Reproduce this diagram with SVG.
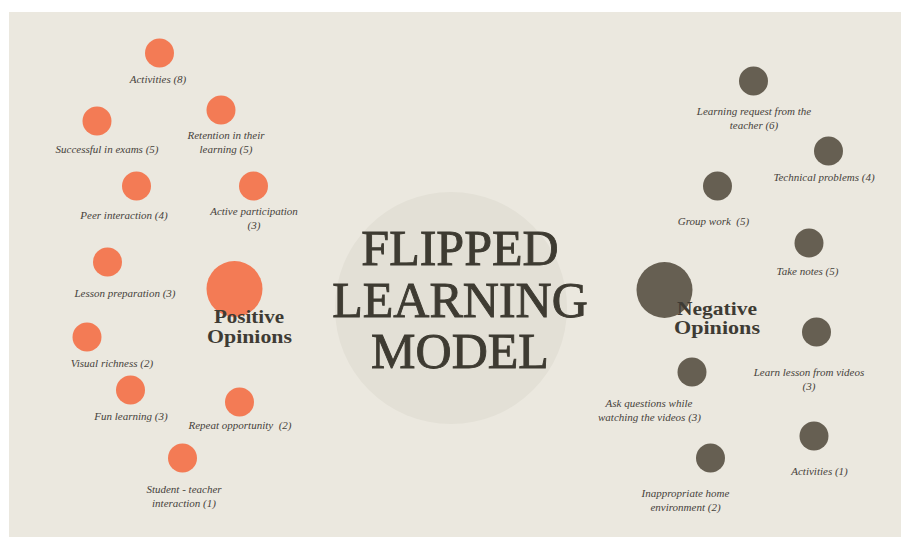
<svg xmlns="http://www.w3.org/2000/svg" width="901" height="537" viewBox="0 0 901 537">
  <style>
    .lbl { font-family: "Liberation Serif", "Times New Roman", serif; font-style: italic; font-size: 11px; fill: #46423b; text-anchor: middle; }
    .pos { fill: #f37b55; }
    .neg { fill: #665f52; }
    .grp { font-family: "Liberation Serif", "Times New Roman", serif; font-weight: bold; font-size: 19px; fill: #3e3b34; text-anchor: middle; }
    .title { font-family: "Liberation Serif", "Times New Roman", serif; font-size: 50px; fill: #3e3b32; stroke: #3e3b32; stroke-width: 0.9px; text-anchor: middle; }
  </style>

  <!-- page -->
  <rect x="0" y="0" width="901" height="537" fill="#ffffff"/>
  <rect x="9" y="12" width="892" height="525" fill="#ebe8df"/>

  <!-- central topic -->
  <g id="center">
    <circle cx="451" cy="308" r="116" fill="#e3e0d6"/>
    <text class="title" x="460" y="265">FLIPPED</text>
    <text class="title" x="460" y="317">LEARNING</text>
    <text class="title" x="460" y="368">MODEL</text>
  </g>

  <!-- connectors: none drawn in this layout -->
  <g id="connectors"/>

  <!-- positive opinions -->
  <g id="positive">
    <circle class="pos" cx="234.5" cy="289" r="28"/>
    <text class="grp" x="249" y="323" textLength="70" lengthAdjust="spacingAndGlyphs">Positive</text>
    <text class="grp" x="249.5" y="343" textLength="85" lengthAdjust="spacingAndGlyphs">Opinions</text>
  </g>
  <g id="p-activities">
    <circle class="pos" cx="159.5" cy="53" r="14.5"/>
    <text class="lbl" x="158" y="83">Activities (8)</text>
  </g>
  <g id="p-exams">
    <circle class="pos" cx="97" cy="121" r="14.5"/>
    <text class="lbl" x="107" y="153">Successful in exams (5)</text>
  </g>
  <g id="p-retention">
    <circle class="pos" cx="221" cy="110" r="14.5"/>
    <text class="lbl" x="226" y="139">Retention in their</text>
    <text class="lbl" x="226" y="153">learning (5)</text>
  </g>
  <g id="p-peer">
    <circle class="pos" cx="136.5" cy="186" r="14.5"/>
    <text class="lbl" x="124" y="219">Peer interaction (4)</text>
  </g>
  <g id="p-active">
    <circle class="pos" cx="253.5" cy="186" r="14.5"/>
    <text class="lbl" x="254" y="215">Active participation</text>
    <text class="lbl" x="254" y="229">(3)</text>
  </g>
  <g id="p-lesson">
    <circle class="pos" cx="107.5" cy="262" r="14.5"/>
    <text class="lbl" x="125" y="297">Lesson preparation (3)</text>
  </g>
  <g id="p-visual">
    <circle class="pos" cx="87" cy="337" r="14.5"/>
    <text class="lbl" x="112" y="367">Visual richness (2)</text>
  </g>
  <g id="p-fun">
    <circle class="pos" cx="130.5" cy="390" r="14.5"/>
    <text class="lbl" x="131" y="420">Fun learning (3)</text>
  </g>
  <g id="p-repeat">
    <circle class="pos" cx="239.5" cy="402" r="14.5"/>
    <text class="lbl" x="240" y="429" xml:space="preserve">Repeat opportunity  (2)</text>
  </g>
  <g id="p-student">
    <circle class="pos" cx="182.5" cy="458" r="14.5"/>
    <text class="lbl" x="184" y="493">Student - teacher</text>
    <text class="lbl" x="184" y="507">interaction (1)</text>
  </g>

  <!-- negative opinions -->
  <g id="negative">
    <circle class="neg" cx="664.5" cy="290" r="28"/>
    <text class="grp" x="717" y="315" textLength="80" lengthAdjust="spacingAndGlyphs">Negative</text>
    <text class="grp" x="717" y="334" textLength="86" lengthAdjust="spacingAndGlyphs">Opinions</text>
  </g>
  <g id="n-request">
    <circle class="neg" cx="753.5" cy="81" r="14.5"/>
    <text class="lbl" x="754" y="115">Learning request from the</text>
    <text class="lbl" x="754" y="129">teacher (6)</text>
  </g>
  <g id="n-technical">
    <circle class="neg" cx="828.5" cy="151" r="14.5"/>
    <text class="lbl" x="824" y="181">Technical problems (4)</text>
  </g>
  <g id="n-group">
    <circle class="neg" cx="717.5" cy="186" r="14.5"/>
    <text class="lbl" x="713.5" y="225" xml:space="preserve">Group work  (5)</text>
  </g>
  <g id="n-notes">
    <circle class="neg" cx="809" cy="243" r="14.5"/>
    <text class="lbl" x="807.5" y="275">Take notes (5)</text>
  </g>
  <g id="n-learn">
    <circle class="neg" cx="816.5" cy="332" r="14.5"/>
    <text class="lbl" x="809" y="376">Learn lesson from videos</text>
    <text class="lbl" x="809" y="390">(3)</text>
  </g>
  <g id="n-ask">
    <circle class="neg" cx="692" cy="372" r="14.5"/>
    <text class="lbl" x="649" y="407">Ask questions while</text>
    <text class="lbl" x="649.5" y="421">watching the videos (3)</text>
  </g>
  <g id="n-activities">
    <circle class="neg" cx="814" cy="436" r="14.5"/>
    <text class="lbl" x="819.5" y="475">Activities (1)</text>
  </g>
  <g id="n-home">
    <circle class="neg" cx="710.5" cy="458" r="14.5"/>
    <text class="lbl" x="685.5" y="497">Inappropriate home</text>
    <text class="lbl" x="685.5" y="511">environment (2)</text>
  </g>
</svg>
